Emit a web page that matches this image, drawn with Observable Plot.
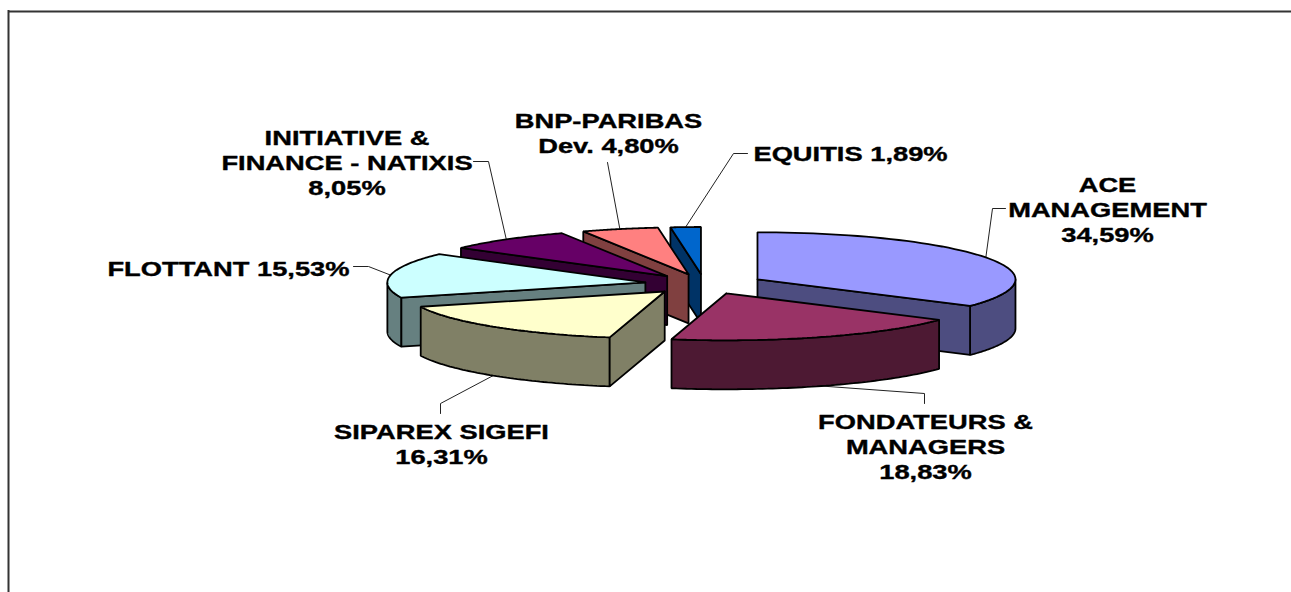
<!DOCTYPE html>
<html>
<head>
<meta charset="utf-8">
<style>html,body{margin:0;padding:0;background:#fff}svg{display:block}</style>
<script src="https://cdn.jsdelivr.net/npm/d3@7"></script>
<script src="https://cdn.jsdelivr.net/npm/@observablehq/plot@0.6"></script>
</head>
<body>
<div id="chart"></div>
<script>
// --- data, clockwise from 12 o'clock
const names = ["ACE MANAGEMENT","FONDATEURS & MANAGERS","SIPAREX SIGEFI","FLOTTANT","INITIATIVE & FINANCE - NATIXIS","BNP-PARIBAS Dev.","EQUITIS"];
const shares = [34.59,18.83,16.31,15.53,8.05,4.80,1.89];
const labelLines = [
  ["ACE","MANAGEMENT","34,59%"],
  ["FONDATEURS &","MANAGERS","18,83%"],
  ["SIPAREX SIGEFI","16,31%"],
  ["FLOTTANT 15,53%"],
  ["INITIATIVE &","FINANCE - NATIXIS","8,05%"],
  ["BNP-PARIBAS","Dev. 4,80%"],
  ["EQUITIS 1,89%"]
];
const topColors  = ["#9999FF","#993366","#FFFFCC","#CCFFFF","#660066","#FF8080","#0066CC"];
const wallColors = ["#4D4D80","#4D1933","#808066","#668080","#330033","#804040","#003366"];

// --- layout of the perspective pie
const W = 1291, H = 592;
const cx = 704, cy = 283.5, rx = 258, ry = 47, depth = 49, explodeX = 0.232, explodeY = 0.213;
const paintOrder = [6,5,4,3,0,2,1];
const labelPos = [[1107,191],[925,428],[441,438],[228,275],[346.5,144],[608,127.5],[850,160.5]];
const elbows = [
  [[1005,208],[992,208]],
  [[924,403],[924,393]],
  [[440,413],[440,403]],
  [[353,266],[368,266]],
  [[473,161],[488,161]],
  [[607,162]],
  [[747,153],[733,153]]
];

const fontSize = 19.5, lineStep = 25.4, stretch = 1.4;

// --- geometry derived from the shares
const rad = d => d * Math.PI / 180;
let acc = 0;
const slices = shares.map((v, i) => {
  const a0 = acc * 3.6; acc += v; const a1 = acc * 3.6; const mid = (a0 + a1) / 2;
  return {i, a0, a1, mid,
    ax: cx + explodeX * rx * Math.sin(rad(mid)),
    ay: cy - explodeY * ry * Math.cos(rad(mid))};
});
const rim = (s, deg, dz = 0) => [s.ax + rx * Math.sin(rad(deg)), s.ay - ry * Math.cos(rad(deg)) + dz];
const arc = (s, from, to, dz = 0) => d3.range(0, 61).map(k => rim(s, from + (to - from) * k / 60, dz));

const shapes = [];
let id = 0;
const add = (pts, color) => { const key = id++; [...pts, pts[0]].forEach(p => shapes.push({key, x: p[0], y: p[1], color})); };
for (const k of paintOrder) {
  const s = slices[k];
  const apex = [s.ax, s.ay];
  const from = Math.max(s.a0, 90), to = Math.min(s.a1, 270);
  if (from < to) add([...arc(s, from, to), ...arc(s, from, to, depth).reverse()], wallColors[k]);
  const cut = s.a0 > 180 ? s.a0 : (s.a1 < 180 ? s.a1 : null);
  if (cut !== null) {
    add([apex, rim(s, cut), rim(s, cut, depth), [s.ax, s.ay + depth]], wallColors[k]);
  }
  add([apex, ...arc(s, s.a0, s.a1)], topColors[k]);
}

const leaders = slices.flatMap((s, k) => {
  const front = s.mid > 90 && s.mid < 270 ? depth : 0;
  return [...elbows[k], rim(s, s.mid, front)].map(p => ({k, x: p[0], y: p[1]}));
});

const textRows = labelLines.flatMap((lines, k) => lines.map((t, n) => ({
  t, x: labelPos[k][0] , y: labelPos[k][1] + n * lineStep - 0.32 * fontSize
})));

const widen = (index, scales, values, dims, ctx, next) => {
  const g = next(index, scales, values, dims, ctx);
  g.querySelectorAll("text").forEach(t => t.setAttribute("transform", (t.getAttribute("transform") || "") + ` scale(${stretch},1)`));
  return g;
};

const chart = Plot.plot({
  width: W, height: H,
  margin: 0,
  x: {domain: [0, W], range: [0, W], axis: null},
  y: {domain: [0, H], range: [0, H], axis: null},
  color: {type: "identity"},
  style: {background: "#fff"},
  marks: [
    Plot.ruleY([11], {x1: 8, x2: W, stroke: "#333", strokeWidth: 2}),
    Plot.ruleX([8], {y1: 10, y2: H, stroke: "#333", strokeWidth: 2}),
    Plot.line(leaders, {x: "x", y: "y", z: "k", stroke: "#222", strokeWidth: 1}),
    Plot.line(shapes, {x: "x", y: "y", z: "key", fill: "color", stroke: "#000", strokeWidth: 1.8, strokeLinejoin: "miter"}),
    Plot.text(textRows, {
      x: "x", y: "y", text: "t", textAnchor: "middle", lineAnchor: "middle",
      fontFamily: "'Liberation Sans', Arial, sans-serif", fontWeight: "bold", fontSize, fill: "#000",
      stroke: "#000", strokeWidth: 0.35,
      render: widen
    })
  ]
});
document.getElementById("chart").appendChild(chart);
</script>
</body>
</html>
